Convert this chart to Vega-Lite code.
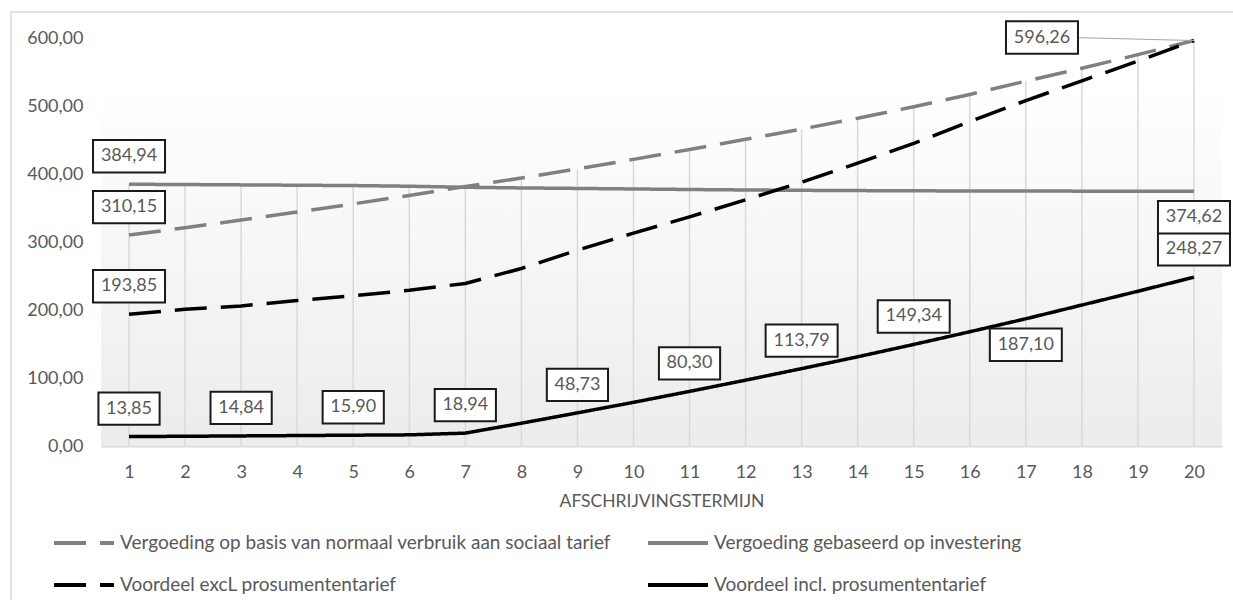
{
  "$schema": "https://vega.github.io/schema/vega-lite/v6.json",
  "width": 1121,
  "height": 408,
  "autosize": {"type": "none"},
  "padding": {"left": 101, "top": 38, "right": 11, "bottom": 154},
  "background": "#ffffff",
  "config": {
    "font": "Lato",
    "view": {"stroke": null},
    "locale": {"number": {"decimal": ",", "thousands": ".", "grouping": [3], "currency": ["€", ""]}}
  },
  "datasets": {
    "series": [
      {"s": "Vergoeding op basis van normaal verbruik aan sociaal tarief", "x": 1, "v": 310.15},
      {"s": "Vergoeding op basis van normaal verbruik aan sociaal tarief", "x": 2, "v": 321.0},
      {"s": "Vergoeding op basis van normaal verbruik aan sociaal tarief", "x": 3, "v": 332.3},
      {"s": "Vergoeding op basis van normaal verbruik aan sociaal tarief", "x": 4, "v": 344.0},
      {"s": "Vergoeding op basis van normaal verbruik aan sociaal tarief", "x": 5, "v": 356.0},
      {"s": "Vergoeding op basis van normaal verbruik aan sociaal tarief", "x": 6, "v": 368.5},
      {"s": "Vergoeding op basis van normaal verbruik aan sociaal tarief", "x": 7, "v": 381.5},
      {"s": "Vergoeding op basis van normaal verbruik aan sociaal tarief", "x": 8, "v": 394.0},
      {"s": "Vergoeding op basis van normaal verbruik aan sociaal tarief", "x": 9, "v": 407.5},
      {"s": "Vergoeding op basis van normaal verbruik aan sociaal tarief", "x": 10, "v": 421.5},
      {"s": "Vergoeding op basis van normaal verbruik aan sociaal tarief", "x": 11, "v": 436.0},
      {"s": "Vergoeding op basis van normaal verbruik aan sociaal tarief", "x": 12, "v": 451.0},
      {"s": "Vergoeding op basis van normaal verbruik aan sociaal tarief", "x": 13, "v": 466.0},
      {"s": "Vergoeding op basis van normaal verbruik aan sociaal tarief", "x": 14, "v": 482.0},
      {"s": "Vergoeding op basis van normaal verbruik aan sociaal tarief", "x": 15, "v": 499.0},
      {"s": "Vergoeding op basis van normaal verbruik aan sociaal tarief", "x": 16, "v": 517.0},
      {"s": "Vergoeding op basis van normaal verbruik aan sociaal tarief", "x": 17, "v": 536.5},
      {"s": "Vergoeding op basis van normaal verbruik aan sociaal tarief", "x": 18, "v": 555.5},
      {"s": "Vergoeding op basis van normaal verbruik aan sociaal tarief", "x": 19, "v": 575.5},
      {"s": "Vergoeding op basis van normaal verbruik aan sociaal tarief", "x": 20, "v": 596.26},
      {"s": "Vergoeding gebaseerd op investering", "x": 1, "v": 384.94},
      {"s": "Vergoeding gebaseerd op investering", "x": 2, "v": 384.5},
      {"s": "Vergoeding gebaseerd op investering", "x": 3, "v": 384.0},
      {"s": "Vergoeding gebaseerd op investering", "x": 4, "v": 383.5},
      {"s": "Vergoeding gebaseerd op investering", "x": 5, "v": 383.0},
      {"s": "Vergoeding gebaseerd op investering", "x": 6, "v": 382.0},
      {"s": "Vergoeding gebaseerd op investering", "x": 7, "v": 380.5},
      {"s": "Vergoeding gebaseerd op investering", "x": 8, "v": 379.5},
      {"s": "Vergoeding gebaseerd op investering", "x": 9, "v": 378.8},
      {"s": "Vergoeding gebaseerd op investering", "x": 10, "v": 378.0},
      {"s": "Vergoeding gebaseerd op investering", "x": 11, "v": 377.2},
      {"s": "Vergoeding gebaseerd op investering", "x": 12, "v": 376.5},
      {"s": "Vergoeding gebaseerd op investering", "x": 13, "v": 376.0},
      {"s": "Vergoeding gebaseerd op investering", "x": 14, "v": 375.6},
      {"s": "Vergoeding gebaseerd op investering", "x": 15, "v": 375.3},
      {"s": "Vergoeding gebaseerd op investering", "x": 16, "v": 375.0},
      {"s": "Vergoeding gebaseerd op investering", "x": 17, "v": 374.9},
      {"s": "Vergoeding gebaseerd op investering", "x": 18, "v": 374.8},
      {"s": "Vergoeding gebaseerd op investering", "x": 19, "v": 374.7},
      {"s": "Vergoeding gebaseerd op investering", "x": 20, "v": 374.62},
      {"s": "Voordeel excL prosumententarief", "x": 1, "v": 193.85},
      {"s": "Voordeel excL prosumententarief", "x": 2, "v": 201.0},
      {"s": "Voordeel excL prosumententarief", "x": 3, "v": 206.0},
      {"s": "Voordeel excL prosumententarief", "x": 4, "v": 214.0},
      {"s": "Voordeel excL prosumententarief", "x": 5, "v": 221.0},
      {"s": "Voordeel excL prosumententarief", "x": 6, "v": 229.0},
      {"s": "Voordeel excL prosumententarief", "x": 7, "v": 239.0},
      {"s": "Voordeel excL prosumententarief", "x": 8, "v": 261.0},
      {"s": "Voordeel excL prosumententarief", "x": 9, "v": 288.0},
      {"s": "Voordeel excL prosumententarief", "x": 10, "v": 313.0},
      {"s": "Voordeel excL prosumententarief", "x": 11, "v": 337.0},
      {"s": "Voordeel excL prosumententarief", "x": 12, "v": 362.0},
      {"s": "Voordeel excL prosumententarief", "x": 13, "v": 388.0},
      {"s": "Voordeel excL prosumententarief", "x": 14, "v": 416.0},
      {"s": "Voordeel excL prosumententarief", "x": 15, "v": 445.0},
      {"s": "Voordeel excL prosumententarief", "x": 16, "v": 477.0},
      {"s": "Voordeel excL prosumententarief", "x": 17, "v": 508.0},
      {"s": "Voordeel excL prosumententarief", "x": 18, "v": 537.0},
      {"s": "Voordeel excL prosumententarief", "x": 19, "v": 566.0},
      {"s": "Voordeel excL prosumententarief", "x": 20, "v": 596.26},
      {"s": "Voordeel incl. prosumententarief", "x": 1, "v": 13.85},
      {"s": "Voordeel incl. prosumententarief", "x": 2, "v": 14.3},
      {"s": "Voordeel incl. prosumententarief", "x": 3, "v": 14.84},
      {"s": "Voordeel incl. prosumententarief", "x": 4, "v": 15.35},
      {"s": "Voordeel incl. prosumententarief", "x": 5, "v": 15.9},
      {"s": "Voordeel incl. prosumententarief", "x": 6, "v": 16.4},
      {"s": "Voordeel incl. prosumententarief", "x": 7, "v": 18.94},
      {"s": "Voordeel incl. prosumententarief", "x": 8, "v": 33.5},
      {"s": "Voordeel incl. prosumententarief", "x": 9, "v": 48.73},
      {"s": "Voordeel incl. prosumententarief", "x": 10, "v": 64.2},
      {"s": "Voordeel incl. prosumententarief", "x": 11, "v": 80.3},
      {"s": "Voordeel incl. prosumententarief", "x": 12, "v": 96.8},
      {"s": "Voordeel incl. prosumententarief", "x": 13, "v": 113.79},
      {"s": "Voordeel incl. prosumententarief", "x": 14, "v": 131.2},
      {"s": "Voordeel incl. prosumententarief", "x": 15, "v": 149.34},
      {"s": "Voordeel incl. prosumententarief", "x": 16, "v": 168.0},
      {"s": "Voordeel incl. prosumententarief", "x": 17, "v": 187.1},
      {"s": "Voordeel incl. prosumententarief", "x": 18, "v": 207.3},
      {"s": "Voordeel incl. prosumententarief", "x": 19, "v": 227.6},
      {"s": "Voordeel incl. prosumententarief", "x": 20, "v": 248.27}
    ]
  },
  "layer": [
    {
      "data": {"values": [{}]},
      "mark": {"type": "rect", "fill": null, "stroke": "#d9d9d9", "strokeWidth": 1.5, "clip": false},
      "encoding": {
        "x": {"datum": -1.106, "type": "quantitative", "scale": {"domain": [0.5, 20.5], "nice": false, "zero": false}},
        "x2": {"datum": 20.9},
        "y": {"datum": 638.2, "type": "quantitative", "scale": {"domain": [0, 600], "nice": false}},
        "y2": {"datum": -260}
      }
    },
    {
      "data": {"values": [{}]},
      "mark": {"type": "rect", "fill": {"gradient": "linear", "x1": 0, "y1": 0, "x2": 0, "y2": 1, "stops": [{"offset": 0, "color": "#ffffff"}, {"offset": 1, "color": "#ececec"}]}},
      "encoding": {
        "x": {"datum": 0.5, "type": "quantitative"},
        "x2": {"datum": 20.5},
        "y": {"datum": 530, "type": "quantitative"},
        "y2": {"datum": 0}
      }
    },
    {
      "data": {"name": "series"},
      "mark": {"type": "rule", "color": "#d9d9d9", "strokeWidth": 1.5},
      "encoding": {
        "x": {"field": "x", "type": "quantitative"},
        "y": {"aggregate": "max", "field": "v", "type": "quantitative"},
        "y2": {"datum": 0}
      }
    },
    {
      "data": {"name": "series"},
      "mark": {"type": "line", "strokeWidth": 3.5, "strokeCap": "butt", "strokeJoin": "round"},
      "encoding": {
        "x": {
          "field": "x", "type": "quantitative",
          "scale": {"domain": [0.5, 20.5], "nice": false, "zero": false},
          "axis": {
            "values": [1,2,3,4,5,6,7,8,9,10,11,12,13,14,15,16,17,18,19,20],
            "format": "d", "grid": false, "ticks": false,
            "domain": true, "domainColor": "#d9d9d9", "domainWidth": 2,
            "labelFont": "Lato", "labelFontSize": 18, "labelColor": "#595959", "labelPadding": 17,
            "title": "AFSCHRIJVINGSTERMIJN", "titleFont": "Lato", "titleFontSize": 17.5, "titleFontWeight": "normal",
            "titleColor": "#595959", "titlePadding": 11
          }
        },
        "y": {
          "field": "v", "type": "quantitative",
          "scale": {"domain": [0, 600], "nice": false},
          "axis": {
            "values": [0, 100, 200, 300, 400, 500, 600], "format": ".2f",
            "grid": false, "ticks": false, "domain": false,
            "labelFont": "Lato", "labelFontSize": 18, "labelColor": "#595959", "labelPadding": 18,
            "title": null
          }
        },
        "color": {
          "field": "s", "type": "nominal",
          "scale": {
            "domain": ["Vergoeding op basis van normaal verbruik aan sociaal tarief", "Vergoeding gebaseerd op investering", "Voordeel excL prosumententarief", "Voordeel incl. prosumententarief"],
            "range": ["#808080", "#808080", "#000000", "#000000"]
          },
          "legend": {
            "title": null, "orient": "none", "legendX": -49, "legendY": 473,
            "direction": "horizontal", "columns": 2, "columnPadding": 28, "rowPadding": 0,
            "symbolType": "stroke", "symbolSize": 3600, "symbolStrokeWidth": 4,
            "labelFont": "Lato", "labelFontSize": 19, "labelColor": "#595959", "labelOffset": 4, "labelLimit": 700
          }
        },
        "strokeDash": {
          "field": "s", "type": "nominal",
          "scale": {
            "domain": ["Vergoeding op basis van normaal verbruik aan sociaal tarief", "Vergoeding gebaseerd op investering", "Voordeel excL prosumententarief", "Voordeel incl. prosumententarief"],
            "range": [[32, 14], [1, 0], [32, 14], [1, 0]]
          },
          "legend": {
            "title": null, "orient": "none", "legendX": -49, "legendY": 473,
            "direction": "horizontal", "columns": 2, "columnPadding": 28, "rowPadding": 0,
            "symbolType": "stroke", "symbolSize": 3600, "symbolStrokeWidth": 4,
            "labelFont": "Lato", "labelFontSize": 19, "labelColor": "#595959", "labelOffset": 4, "labelLimit": 700
          }
        }
      }
    },
    {
      "data": {"values": [{}]},
      "mark": {"type": "rule", "color": "#a6a6a6", "strokeWidth": 1},
      "encoding": {
        "x": {"datum": 17.95, "type": "quantitative"},
        "x2": {"datum": 20},
        "y": {"datum": 600.5, "type": "quantitative"},
        "y2": {"datum": 596.26}
      }
    },
    {
      "data": {"name": "series"},
      "transform": [{"filter": {"field": "v", "oneOf": [384.94, 310.15, 193.85, 13.85, 14.84, 15.9, 18.94, 48.73, 80.3, 113.79, 149.34, 248.27]}}],
      "layer": [
        {
          "mark": {"type": "point", "filled": true, "fill": "#ffffff", "stroke": "#1a1a1a", "strokeWidth": 2, "opacity": 1, "size": 5184, "yOffset": -28},
          "encoding": {
            "x": {"field": "x", "type": "quantitative"},
            "y": {"field": "v", "type": "quantitative"},
            "shape": {"condition": {"test": "datum.v < 100", "value": "M-0.85,-0.45L0.85,-0.45L0.85,0.45L-0.85,0.45Z"}, "value": "M-1,-0.45L1,-0.45L1,0.45L-1,0.45Z"}
          }
        },
        {
          "mark": {"type": "text", "font": "Lato", "fontSize": 18, "color": "#595959", "align": "center", "baseline": "middle", "yOffset": -28},
          "encoding": {
            "x": {"field": "x", "type": "quantitative"},
            "y": {"field": "v", "type": "quantitative"},
            "text": {"field": "v", "type": "quantitative", "format": ".2f"}
          }
        }
      ]
    },
    {
      "data": {"name": "series"},
      "transform": [{"filter": {"field": "v", "oneOf": [374.62, 187.1]}}],
      "layer": [
        {
          "mark": {"type": "point", "filled": true, "fill": "#ffffff", "stroke": "#1a1a1a", "strokeWidth": 2, "opacity": 1, "size": 5184, "yOffset": 26, "shape": "M-1,-0.45L1,-0.45L1,0.45L-1,0.45Z"},
          "encoding": {
            "x": {"field": "x", "type": "quantitative"},
            "y": {"field": "v", "type": "quantitative"}
          }
        },
        {
          "mark": {"type": "text", "font": "Lato", "fontSize": 18, "color": "#595959", "align": "center", "baseline": "middle", "yOffset": 26},
          "encoding": {
            "x": {"field": "x", "type": "quantitative"},
            "y": {"field": "v", "type": "quantitative"},
            "text": {"field": "v", "type": "quantitative", "format": ".2f"}
          }
        }
      ]
    },
    {
      "data": {"name": "series"},
      "transform": [{"filter": "datum.v == 596.26 && datum.s == 'Vergoeding op basis van normaal verbruik aan sociaal tarief'"}],
      "layer": [
        {
          "mark": {"type": "point", "filled": true, "fill": "#ffffff", "stroke": "#1a1a1a", "strokeWidth": 2, "opacity": 1, "size": 5184, "xOffset": -152, "yOffset": -3, "shape": "M-1,-0.45L1,-0.45L1,0.45L-1,0.45Z"},
          "encoding": {
            "x": {"field": "x", "type": "quantitative"},
            "y": {"field": "v", "type": "quantitative"}
          }
        },
        {
          "mark": {"type": "text", "font": "Lato", "fontSize": 18, "color": "#595959", "align": "center", "baseline": "middle", "xOffset": -152, "yOffset": -3},
          "encoding": {
            "x": {"field": "x", "type": "quantitative"},
            "y": {"field": "v", "type": "quantitative"},
            "text": {"field": "v", "type": "quantitative", "format": ".2f"}
          }
        }
      ]
    }
  ]
}
